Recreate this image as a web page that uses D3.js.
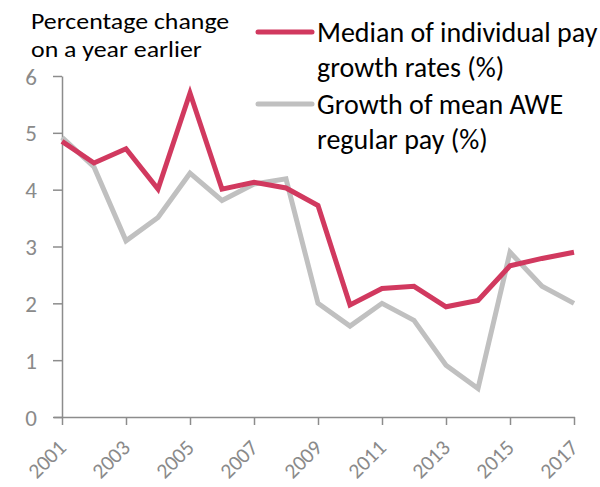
<!DOCTYPE html>
<html><head><meta charset="utf-8">
<script src="https://cdn.jsdelivr.net/npm/d3@7"></script>
<style>
body{margin:0;background:#fff;}
svg text{font-family:Carlito,Lato,"Open Sans",sans-serif;}
</style></head>
<body><svg id="c" width="600" height="487"></svg>
<script>
const years = [2001,2002,2003,2004,2005,2006,2007,2008,2009,2010,2011,2012,2013,2014,2015,2016,2017];
const medianGrowth = [4.85,4.47,4.72,4.01,5.70,4.01,4.13,4.03,3.72,1.97,2.26,2.30,1.94,2.05,2.66,2.79,2.90];
const aweGrowth = [4.92,4.40,3.10,3.51,4.29,3.81,4.10,4.19,2.00,1.60,2.00,1.70,0.91,0.50,2.90,2.30,2.00];
const xTickYears = [2001,2003,2005,2007,2009,2011,2013,2015,2017];
const yTicks = [0,1,2,3,4,5,6];
const seriesNames = [["Median of individual pay","growth rates (%)"],["Growth of mean AWE","regular pay (%)"]];
const titleLines = ["Percentage change","on a year earlier"];
const colors = ["#d1395f","#c0c0c0"];

const svg = d3.select("#c");
const x = d3.scaleLinear().domain([2001,2017]).range([62,574]);
const y = d3.scaleLinear().domain([0,6]).range([417,76]);
const axisColor = "#8c8c8c", labelColor = "#8a8a8a";

// y axis
const ya = svg.append("g").attr("transform","translate(62,0)")
  .call(d3.axisLeft(y).tickValues(yTicks).tickFormat(d3.format("d")).tickSize(9).tickPadding(16).tickSizeOuter(0));
ya.select(".domain").attr("stroke",axisColor).attr("stroke-width",1.5);
ya.selectAll(".tick line").attr("stroke",axisColor).attr("stroke-width",1.5);
ya.selectAll(".tick text").attr("fill",labelColor).style("font-size","23px").attr("dy","0.35em");

// x axis
const xa = svg.append("g").attr("transform","translate(0,417)")
  .call(d3.axisBottom(x).tickValues(xTickYears).tickFormat(d3.format("d")).tickSize(8).tickSizeOuter(0));
xa.select(".domain").attr("stroke",axisColor).attr("stroke-width",1.5).attr("d","M54,0.5H575");
xa.selectAll(".tick line").attr("stroke",axisColor).attr("stroke-width",1.5);
xa.selectAll(".tick text").attr("fill",labelColor).style("font-size","21.5px")
  .attr("text-anchor","end").attr("y",0).attr("dy",0)
  .attr("transform","translate(5,32) rotate(-45)");

const line = d3.line().x((d,i)=>x(years[i])).y(d=>y(d));
[aweGrowth, medianGrowth].forEach((s,k)=>{
  svg.append("path").datum(s).attr("d",line).attr("fill","none")
    .attr("stroke", k===0?colors[1]:colors[0]).attr("stroke-width",5)
    .attr("stroke-linejoin","miter").attr("stroke-linecap","butt");
});

// title
titleLines.forEach((t,i)=>svg.append("text")
  .attr("transform",`translate(31,${29+i*28}) scale(1.15,1)`)
  .attr("fill","#000").style("font-size","22.5px").text(t));

// legend
seriesNames.forEach((lines,k)=>{
  const top = 32 + k*72;
  svg.append("line").attr("x1",258).attr("x2",312).attr("y1",top).attr("y2",top)
    .attr("stroke",colors[k]).attr("stroke-width",5).attr("stroke-linecap","round");
  lines.forEach((t,i)=>svg.append("text").attr("x",317).attr("y",top+10+i*35)
    .attr("fill","#000").style("font-size","28px").text(t));
});
</script></body></html>
